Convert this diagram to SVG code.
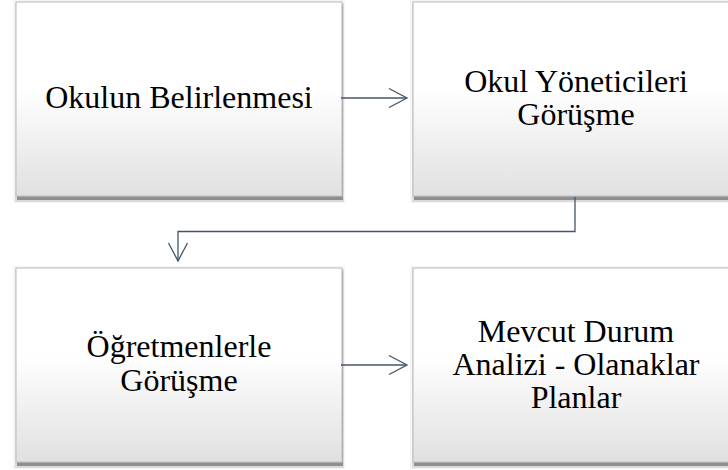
<svg xmlns="http://www.w3.org/2000/svg" width="728" height="470" viewBox="0 0 728 470">
  <defs>
    <linearGradient id="boxFill" x1="0" y1="0" x2="0" y2="1">
      <stop offset="0" stop-color="#ffffff"/>
      <stop offset="0.45" stop-color="#ffffff"/>
      <stop offset="1" stop-color="#e0e0e0"/>
    </linearGradient>
  </defs>
  <style>
    .glow { fill: #f5f5f5; }
    .soft { fill: #dadada; }
    .drop { fill: #8e8e8e; }
    .box { fill: url(#boxFill); stroke: #c4c4c4; stroke-width: 1.2; }
    .label { font-size: 32px; fill: #000; text-anchor: middle; }
    .conn { fill: none; stroke: #44546a; stroke-width: 1.3; }
  </style>

  <g id="node1">
    <rect class="glow" x="13" y="0" width="332" height="203"/>
    <rect class="soft" x="15" y="3" width="329" height="199"/>
    <rect class="drop" x="17" y="5" width="326" height="195"/>
    <rect class="box" x="16" y="2" width="326" height="194"/>
    <text class="label" font-family="Liberation Serif" x="179" y="108">Okulun Belirlenmesi</text>
  </g>

  <g id="node2">
    <rect class="glow" x="410" y="0" width="332" height="203"/>
    <rect class="soft" x="412" y="3" width="329" height="199"/>
    <rect class="drop" x="414" y="5" width="326" height="195"/>
    <rect class="box" x="413" y="2" width="326" height="194"/>
    <text class="label" font-family="Liberation Serif" x="576" y="92">Okul Yöneticileri</text>
    <text class="label" font-family="Liberation Serif" x="576" y="125">Görüşme</text>
  </g>

  <g id="node3">
    <rect class="glow" x="13" y="266" width="332" height="203"/>
    <rect class="soft" x="15" y="269" width="329" height="199"/>
    <rect class="drop" x="17" y="271" width="326" height="195"/>
    <rect class="box" x="16" y="268" width="326" height="194"/>
    <text class="label" font-family="Liberation Serif" x="179" y="357">Öğretmenlerle</text>
    <text class="label" font-family="Liberation Serif" x="179" y="391">Görüşme</text>
  </g>

  <g id="node4">
    <rect class="glow" x="410" y="266" width="332" height="203"/>
    <rect class="soft" x="412" y="269" width="329" height="199"/>
    <rect class="drop" x="414" y="271" width="326" height="195"/>
    <rect class="box" x="413" y="268" width="326" height="194"/>
    <text class="label" font-family="Liberation Serif" x="576" y="342">Mevcut Durum</text>
    <text class="label" font-family="Liberation Serif" x="576" y="375">Analizi - Olanaklar</text>
    <text class="label" font-family="Liberation Serif" x="576" y="408">Planlar</text>
  </g>

  <g id="connectors">
    <path class="conn" d="M341,98 L406,98"/>
    <path class="conn" d="M389,88.5 L407,98 L389,107.5"/>
    <path class="conn" d="M575,197 L575,231.5 L178,231.5 L178,260"/>
    <path class="conn" d="M168.5,243 L178,261 L187.5,243"/>
    <path class="conn" d="M341,365 L406,365"/>
    <path class="conn" d="M389,355.5 L407,365 L389,374.5"/>
  </g>
</svg>
